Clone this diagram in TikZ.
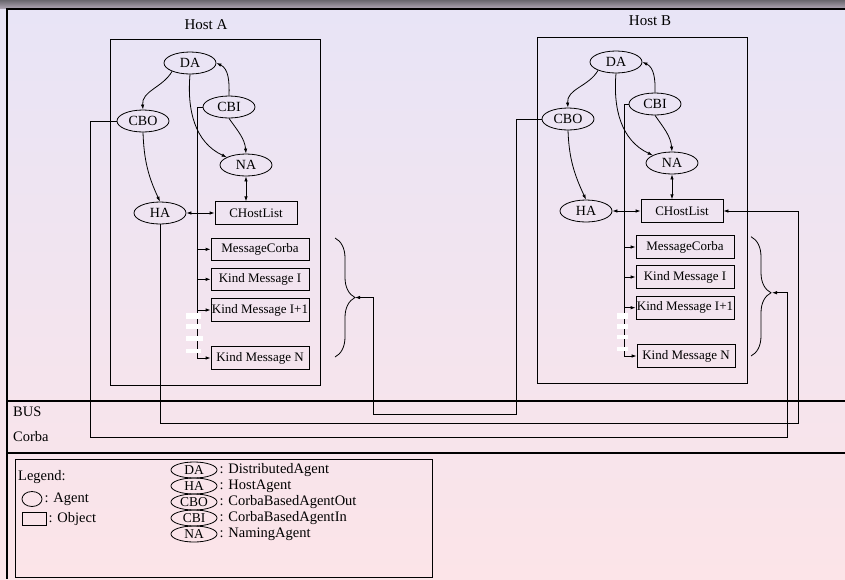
\documentclass[tikz,border=0pt]{standalone}
\usepackage{fontspec}
\setmainfont{Liberation Serif}
\usetikzlibrary{arrows.meta,shapes.geometric,decorations.pathreplacing}
\definecolor{bartop}{RGB}{105,103,110}
\definecolor{barbot}{RGB}{180,170,185}
\definecolor{bgtop}{RGB}{232,228,246}
\definecolor{bgbot}{RGB}{252,228,232}
\begin{document}
\begin{tikzpicture}[x=1pt,y=1pt,
  agent/.style={draw,ellipse,line width=0.8pt,minimum width=52pt,minimum height=22pt,inner sep=0pt,font=\fontsize{14}{16}\selectfont},
  obj/.style={draw,rectangle,line width=0.8pt,minimum width=98pt,minimum height=22.5pt,inner sep=0pt,font=\fontsize{13}{15}\selectfont},
  ln/.style={line width=0.8pt},
  arr/.style={ln,-{Latex[length=5pt,width=3.5pt]}},
  darr/.style={ln,{Latex[length=5pt,width=3.5pt]}-{Latex[length=5pt,width=3.5pt]}},
  thickrule/.style={line width=2.5pt},
  lbl/.style={font=\fontsize{15}{17}\selectfont,inner sep=0pt},
  legtxt/.style={font=\fontsize{14.5}{16}\selectfont,inner sep=0pt,anchor=west},
  legag/.style={draw,ellipse,line width=0.8pt,minimum width=46pt,minimum height=16pt,inner sep=0pt,font=\fontsize{13.5}{15}\selectfont},
  bracedec/.style={ln,decorate,decoration={brace,amplitude=20pt}},
]
\useasboundingbox (0,0) rectangle (845,-579);
% background
\shade[top color=bartop,bottom color=barbot] (0,0) rectangle (845,-9);
\shade[top color=bgtop,bottom color=bgbot] (0,-9) rectangle (845,-579);
\draw[thickrule] (845,-9) -- (7,-9) -- (7,-579);
\draw[thickrule] (7,-401) -- (845,-401);
\draw[thickrule] (7,-453) -- (845,-453);

% host boxes
\node[lbl] (hostA) at (206,-25) {Host A};
\node[lbl] (hostB) at (650,-21) {Host B};
\draw[ln] (110.5,-39.5) rectangle (320.5,-385);
\draw[ln] (537,-37.5) rectangle (747,-383);

% ---------- Host A ----------
\node[agent] (DAa) at (190,-63) {DA};
\node[agent] (CBIa) at (229,-107) {CBI};
\node[agent] (CBOa) at (143,-121) {CBO};
\node[agent] (NAa) at (246,-165) {NA};
\node[agent] (HAa) at (160,-213) {HA};
\node[obj,minimum width=82pt] (CHa) at (256,-213) {CHostList};
\node[obj] (MCa) at (260,-249.3) {MessageCorba};
\node[obj] (KIa) at (260,-279.3) {Kind Message I};
\node[obj] (KJa) at (260,-310) {Kind Message I+1};
\node[obj] (KNa) at (260,-358) {Kind Message N};

\draw[arr] (DAa.205) to[out=240,in=95] (CBOa.north);
\draw[arr] (CBIa.north) to[out=88,in=-25] (DAa.east);
\draw[arr] (DAa.south) to[out=-95,in=155] (NAa.158);
\draw[arr] (CBIa.south) to[out=-55,in=95] (NAa.north);
\draw[arr] (CBOa.south) to[out=-88,in=115] (HAa.north);
\draw[darr] (NAa.south) -- (NAa.south |- CHa.north);
\draw[darr] (HAa.east) -- (CHa.west);

\coordinate (ja) at (197,-107);
\draw[ln] (CBIa.west) -- (ja);
\draw[arr] (ja) |- (KNa.west);
\draw[arr] (ja |- MCa.west) -- (MCa.west);
\draw[arr] (ja |- KIa.west) -- (KIa.west);
\draw[arr] (ja |- KJa.west) -- (KJa.west);
\fill[white] (185.7,-313.3) rectangle (201,-319.3);
\fill[white] (185.7,-324.3) rectangle (201,-329.3);
\fill[white] (185.7,-335.7) rectangle (202.7,-341.3);
\fill[white] (185.7,-349.3) rectangle (201,-353.3);

\draw[bracedec] (335,-238) -- (335,-357);
\coordinate (tipA) at (355,-297.5);

% ---------- Host B ----------
\node[agent] (DAb) at (616,-62) {DA};
\node[agent] (CBIb) at (655,-104) {CBI};
\node[agent] (CBOb) at (568,-119) {CBO};
\node[agent] (NAb) at (672,-163) {NA};
\node[agent] (HAb) at (586,-211) {HA};
\node[obj,minimum width=82pt] (CHb) at (682,-211) {CHostList};
\node[obj] (MCb) at (685,-247) {MessageCorba};
\node[obj] (KIb) at (685,-277) {Kind Message I};
\node[obj] (KJb) at (685,-307.7) {Kind Message I+1};
\node[obj] (KNb) at (686,-356) {Kind Message N};

\draw[arr] (DAb.205) to[out=240,in=95] (CBOb.north);
\draw[arr] (CBIb.north) to[out=88,in=-25] (DAb.east);
\draw[arr] (DAb.south) to[out=-95,in=155] (NAb.158);
\draw[arr] (CBIb.south) to[out=-55,in=95] (NAb.north);
\draw[arr] (CBOb.south) to[out=-88,in=115] (HAb.north);
\draw[darr] (NAb.south) -- (NAb.south |- CHb.north);
\draw[darr] (HAb.east) -- (CHb.west);

\coordinate (jb) at (624,-104);
\draw[ln] (CBIb.west) -- (jb);
\draw[arr] (jb) |- (KNb.west);
\draw[arr] (jb |- MCb.west) -- (MCb.west);
\draw[arr] (jb |- KIb.west) -- (KIb.west);
\draw[arr] (jb |- KJb.west) -- (KJb.west);
\fill[white] (617.3,-313.3) rectangle (627.7,-318.7);
\fill[white] (617.3,-324) rectangle (627.7,-328.7);
\fill[white] (617.3,-334.7) rectangle (627.7,-339);
\fill[white] (617.3,-346.7) rectangle (627.7,-350.7);

\draw[bracedec,decoration={aspect=0.47}] (751,-236.7) -- (751,-356);
\coordinate (tipB) at (772,-292.7);

% ---------- bus connections ----------
\draw[arr] (CBOa.west) -| (90.7,-437) -| (787,-292.7) -- (tipB);
\draw[arr] (HAa.south) |- (798.5,-423) |- (CHb.east);
\draw[arr] (CBOb.west) -| (516,-414) -| (373,-297.5) -- (tipA);

\node[legtxt] (bus) at (13,-412) {BUS};
\node[legtxt] (corba) at (13,-437) {Corba};

% ---------- legend ----------
\draw[ln] (15,-459) rectangle (432,-577);
\node[legtxt] (leg) at (18,-477) {Legend:};
\node[draw,ellipse,line width=0.8pt,minimum width=20pt,minimum height=15pt,inner sep=0pt] (lga) at (32,-499) {};
\node[legtxt] (lgat) at ([xshift=2pt]lga.east) {: Agent};
\node[draw,rectangle,line width=0.8pt,minimum width=24pt,minimum height=13pt,inner sep=0pt] (lgo) at (34,-519) {};
\node[legtxt] (lgot) at ([xshift=2pt]lgo.east) {: Object};

\node[legag] (lDA) at (194,-470) {DA};
\node[legag] (lHA) at (194,-486) {HA};
\node[legag] (lCBO) at (194,-502) {CBO};
\node[legag] (lCBI) at (194,-518) {CBI};
\node[legag] (lNA) at (194,-534) {NA};
\node[legtxt] at ([xshift=2pt]lDA.east) {: DistributedAgent};
\node[legtxt] at ([xshift=2pt]lHA.east) {: HostAgent};
\node[legtxt] at ([xshift=2pt]lCBO.east) {: CorbaBasedAgentOut};
\node[legtxt] at ([xshift=2pt]lCBI.east) {: CorbaBasedAgentIn};
\node[legtxt] at ([xshift=2pt]lNA.east) {: NamingAgent};
\end{tikzpicture}
\end{document}
